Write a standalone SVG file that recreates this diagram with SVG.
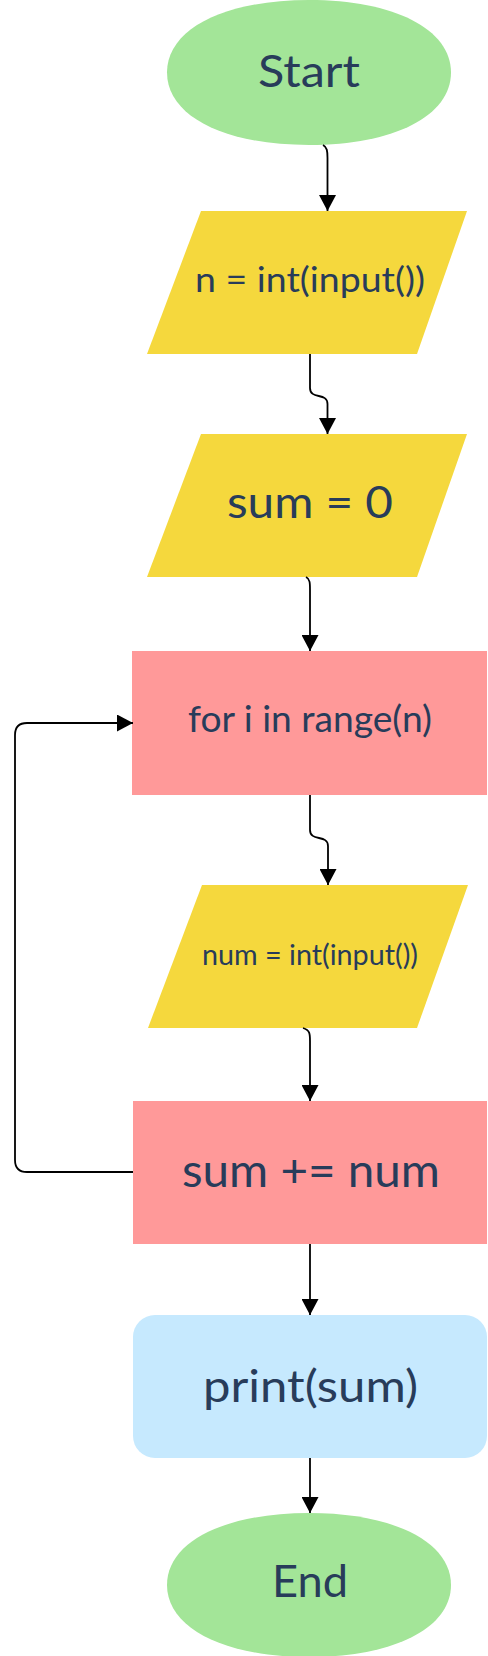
<svg xmlns="http://www.w3.org/2000/svg" width="488" height="1656" viewBox="0 0 488 1656">
<style>
.lbl{font-family:Lato,"Liberation Sans",sans-serif;fill:#283c5a;text-anchor:middle}
.term{fill:#a3e598}
.io{fill:#f5d83d}
.proc{fill:#ff9999}
.out{fill:#c6e9fe}
.conn{fill:none;stroke:#000;stroke-width:1.8}
</style>
<defs>
<marker id="ah" markerUnits="userSpaceOnUse" markerWidth="17" markerHeight="17" refX="16" refY="8.5" orient="auto" viewBox="0 0 17 17">
<path d="M0,0 L16,8.5 L0,17 z" fill="#000"/>
</marker>
</defs>
<rect width="488" height="1656" fill="#fff"/>
<g id="start">
<path class="term" d="M167,72.5 C167,29 224,0 309,0 C394,0 451,29 451,72.5 C451,116 394,145 309,145 C224,145 167,116 167,72.5 Z"/>
<text class="lbl" x="309" y="87" font-size="45" textLength="102" lengthAdjust="spacingAndGlyphs">Start</text>
</g>
<g id="input-n">
<polygon class="io" points="201,211 467,211 417,354 147,354"/>
<text class="lbl" x="310" y="292" font-size="34" textLength="230" lengthAdjust="spacingAndGlyphs">n = int(input())</text>
</g>
<g id="sum-init">
<polygon class="io" points="201,434 467,434 417,577 147,577"/>
<text class="lbl" x="310" y="518" font-size="45" textLength="166" lengthAdjust="spacingAndGlyphs">sum = 0</text>
</g>
<g id="for-loop">
<rect class="proc" x="132" y="651" width="355" height="144"/>
<text class="lbl" x="310" y="732" font-size="36" textLength="244" lengthAdjust="spacingAndGlyphs">for i in range(n)</text>
</g>
<g id="input-num">
<polygon class="io" points="202,885 468,885 417,1028 148,1028"/>
<text class="lbl" x="310" y="965" font-size="29" textLength="216" lengthAdjust="spacingAndGlyphs">num = int(input())</text>
</g>
<g id="sum-add">
<rect class="proc" x="133" y="1101" width="354" height="143"/>
<text class="lbl" x="311" y="1187" font-size="46" textLength="258" lengthAdjust="spacingAndGlyphs">sum += num</text>
</g>
<g id="print">
<rect class="out" x="133" y="1315" width="354" height="143" rx="22" ry="22"/>
<text class="lbl" x="310.5" y="1402" font-size="45" textLength="215" lengthAdjust="spacingAndGlyphs">print(sum)</text>
</g>
<g id="end">
<path class="term" d="M167,1585 C167,1542 224,1513 309,1513 C394,1513 451,1542 451,1585 C451,1628 394,1657 309,1657 C224,1657 167,1628 167,1585 Z"/>
<text class="lbl" x="310" y="1597" font-size="45" textLength="76" lengthAdjust="spacingAndGlyphs">End</text>
</g>
<g id="connectors">
<path class="conn" marker-end="url(#ah)" d="M323,145 C327,147 327.5,151 327.5,158 V211"/>
<path class="conn" marker-end="url(#ah)" d="M310,354 V388 C310,400 327.5,392 327.5,404 V434"/>
<path class="conn" marker-end="url(#ah)" d="M306,577 C310,579 310,583 310,590 V651"/>
<path class="conn" marker-end="url(#ah)" d="M310,795 V830 C310,842 328,834 328,846 V885"/>
<path class="conn" marker-end="url(#ah)" d="M303,1028 C310,1030 310,1034 310,1041 V1101"/>
<path class="conn" marker-end="url(#ah)" d="M310,1244 V1315"/>
<path class="conn" marker-end="url(#ah)" d="M310,1458 V1513"/>
<path class="conn" marker-end="url(#ah)" d="M133,1172 H27 Q15,1172 15,1160 V735 Q15,723 27,723 H133"/>
</g>
</svg>
